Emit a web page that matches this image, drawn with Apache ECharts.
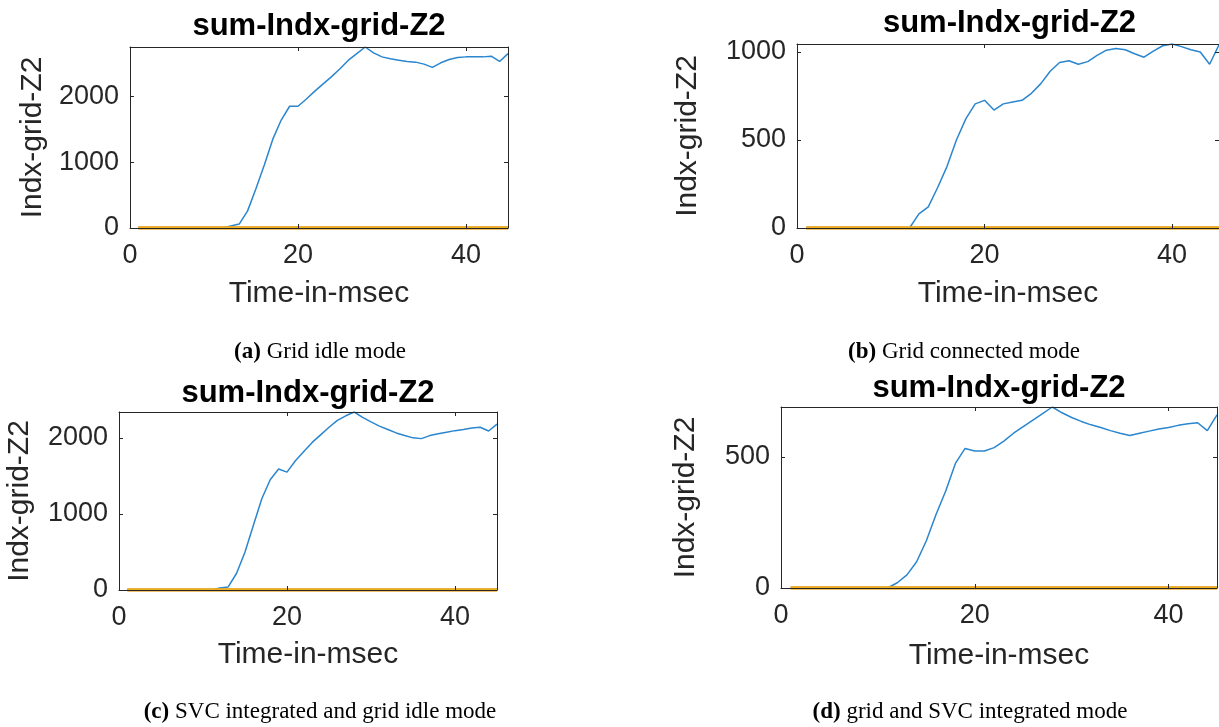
<!DOCTYPE html>
<html>
<head>
	<meta charset="utf-8">
	<title>sum-Indx-grid-Z2</title>
	<script src="https://cdn.jsdelivr.net/npm/echarts@6/dist/echarts.min.js"></script>
	<style>body{margin:0;background:#fff;}</style>
</head>
<body>
	<div id="main" style="width:1219px;height:727px;"></div>
	<script>
		// time axis (msec) shared by all four runs
		var time = [1,2,3,4,5,6,7,8,9,10,11,12,13,14,15,16,17,18,19,20,21,22,23,24,25,26,27,28,29,30,31,32,33,34,35,36,37,38,39,40,41,42,43,44,45];
		// the two other signals sit flat on zero
		var zeroLine = [0,0,0,0,0,0,0,0,0,0,0,0,0,0,0,0,0,0,0,0,0,0,0,0,0,0,0,0,0,0,0,0,0,0,0,0,0,0,0,0,0,0,0,0,0];

		// sum-Indx-grid-Z2 per mode
		var gridIdle = [0,0,0,0,0,0,0,0,0,0,0,30,60,260,600,960,1350,1640,1850,1850,1960,2080,2190,2300,2420,2550,2650,2750,2660,2600,2570,2550,2530,2520,2490,2440,2510,2560,2590,2600,2600,2600,2610,2530,2650];
		var gridConnected = [0,0,0,0,0,0,0,0,0,0,0,0,80,120,230,350,500,620,705,725,670,705,715,725,765,820,890,940,950,930,945,980,1010,1020,1012,990,970,1005,1035,1045,1030,1012,1000,930,1040];
		var svcGridIdle = [0,0,0,0,0,0,0,0,0,0,0,25,40,220,500,850,1200,1450,1590,1550,1700,1820,1940,2040,2140,2230,2290,2340,2270,2210,2155,2110,2065,2030,2000,1990,2030,2055,2075,2095,2110,2130,2140,2090,2180];
		var svcGridConnected = [0,0,0,0,0,0,0,0,0,0,0,20,50,100,180,280,370,475,532,522,522,535,560,590,615,640,665,690,668,650,635,622,612,600,590,581,590,598,606,612,620,626,630,600,660];

		var yMax = [2750, 1045, 2340, 690];
		var yStep = [1000, 500, 1000, 500];
		var xMax = 45, xStep = 20;

		var titleText = 'sum-Indx-grid-Z2';
		var xName = 'Time-in-msec';
		var yName = 'Indx-grid-Z2';
		var captionTag = ['(a)', '(b)', '(c)', '(d)'];
		var captionText = ['Grid idle mode', 'Grid connected mode', 'SVC integrated and grid idle mode', 'grid and SVC integrated mode'];

		var values = [gridIdle, gridConnected, svcGridIdle, svcGridConnected];

		// layout of the four subplots
		var panels = [
			{ left: 130, top: 47, width: 378, height: 181, yGap: 82, xGap: 51, titleY: 26, capX: 320, capY: 352 },
			{ left: 797, top: 44, width: 425, height: 184, yGap: 94, xGap: 51, titleY: 23, capX: 964, capY: 352 },
			{ left: 119, top: 412, width: 378, height: 178, yGap: 84, xGap: 50, titleY: 393, capX: 320, capY: 712 },
			{ left: 781, top: 407, width: 436, height: 181, yGap: 80, xGap: 53, titleY: 388, capX: 970, capY: 712 }
		];

		var sans = '"Liberation Sans", Arial, sans-serif';
		var ink = '#262626';

		var grids = [], xAxes = [], yAxes = [], series = [], graphics = [];

		function plain(v){ return String(v); }

		panels.forEach(function(p, i){
			grids.push({ left: p.left, top: p.top, width: p.width, height: p.height, show: false });

			var lineStyle = { color: ink, width: 1 };
			// bottom / left axes with labels
			xAxes.push({
				gridIndex: i, type: 'value', position: 'bottom', min: 0, max: xMax, interval: xStep,
				name: xName, nameLocation: 'middle', nameGap: p.xGap,
				nameTextStyle: { fontFamily: sans, fontSize: 30, color: ink },
				axisLine: { show: true, onZero: false, lineStyle: lineStyle },
				axisTick: { show: true, inside: true, length: 4, lineStyle: lineStyle },
				axisLabel: { fontFamily: sans, fontSize: 27, color: ink, margin: 14, showMaxLabel: false, formatter: plain },
				splitLine: { show: false }, z: 5
			});
			yAxes.push({
				gridIndex: i, type: 'value', position: 'left', min: 0, max: yMax[i], interval: yStep[i],
				name: yName, nameLocation: 'middle', nameGap: p.yGap,
				nameTextStyle: { fontFamily: sans, fontSize: 30, color: ink },
				axisLine: { show: true, onZero: false, lineStyle: lineStyle },
				axisTick: { show: true, inside: true, length: 4, lineStyle: lineStyle },
				axisLabel: { fontFamily: sans, fontSize: 27, color: ink, margin: 11, showMaxLabel: false, formatter: plain },
				splitLine: { show: false }, z: 5
			});
			// top / right axes close the box
			xAxes.push({
				gridIndex: i, type: 'value', position: 'top', min: 0, max: xMax, interval: xStep,
				axisLine: { show: true, onZero: false, lineStyle: lineStyle },
				axisTick: { show: true, inside: true, length: 4, lineStyle: lineStyle },
				axisLabel: { show: false }, splitLine: { show: false }, z: 5
			});
			yAxes.push({
				gridIndex: i, type: 'value', position: 'right', min: 0, max: yMax[i], interval: yStep[i],
				axisLine: { show: true, onZero: false, lineStyle: lineStyle },
				axisTick: { show: true, inside: true, length: 4, lineStyle: lineStyle },
				axisLabel: { show: false }, splitLine: { show: false }, z: 5
			});

			var blue = time.map(function(t, k){ return [t, values[i][k]]; });
			var flat = time.map(function(t, k){ return [t, zeroLine[k]]; });
			series.push({
				type: 'line', xAxisIndex: 2 * i, yAxisIndex: 2 * i, data: blue,
				showSymbol: false, lineStyle: { color: '#2a86cf', width: 1.5 }, z: 2
			});
			series.push({
				type: 'line', xAxisIndex: 2 * i, yAxisIndex: 2 * i, data: flat,
				showSymbol: false, lineStyle: { color: '#D95319', width: 3 }, z: 3
			});
			series.push({
				type: 'line', xAxisIndex: 2 * i, yAxisIndex: 2 * i, data: flat,
				showSymbol: false, lineStyle: { color: '#EDB120', width: 3.5 }, z: 4
			});

			graphics.push({
				type: 'text', x: p.left + p.width / 2, y: p.titleY,
				style: { text: titleText, textAlign: 'center', textVerticalAlign: 'middle',
					font: 'bold 31px ' + sans, fill: '#000' }
			});
			graphics.push({
				type: 'text', x: p.capX, y: p.capY,
				style: { text: '{b|' + captionTag[i] + '} ' + captionText[i], textAlign: 'center', textVerticalAlign: 'middle',
					font: '23px "Liberation Serif", "Times New Roman", serif', fill: '#000',
					rich: { b: { fontWeight: 'bold', fontSize: 23, fontFamily: '"Liberation Serif", serif' } } }
			});
		});

		var myChart = echarts.init(document.getElementById('main'));
		myChart.setOption({
			animation: false,
			grid: grids,
			xAxis: xAxes,
			yAxis: yAxes,
			series: series,
			graphic: graphics
		});
	</script>
</body>
</html>
